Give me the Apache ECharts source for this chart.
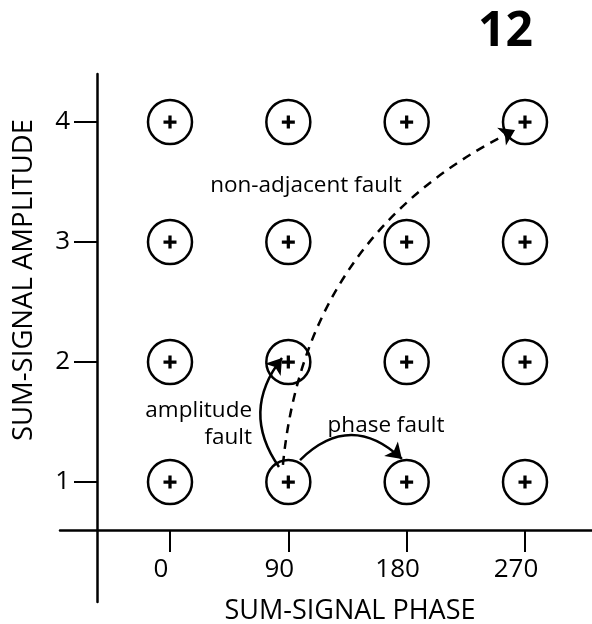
<!DOCTYPE html>
<html><head><meta charset="utf-8">
<script src="https://cdn.jsdelivr.net/npm/echarts@6/dist/echarts.min.js"></script>
<style>html,body{margin:0;padding:0;background:#fff}#c{width:592px;height:624px}</style>
</head><body><div id="c"></div>
<script>
// ---- data ----
const phaseTicks = [0, 90, 180, 270];
const amplitudeTicks = [1, 2, 3, 4];
const constellationPoints = [
  [0, 1], [90, 1], [180, 1], [270, 1],
  [0, 2], [90, 2], [180, 2], [270, 2],
  [0, 3], [90, 3], [180, 3], [270, 3],
  [0, 4], [90, 4], [180, 4], [270, 4]
];
const amplitudeFault = [[82.9, 1.125], [85.2, 2.033]];
const phaseFault = [[98.9, 1.183], [176.4, 1.192]];
const nonAdjacentFault = [[85.9, 1.142], [262.4, 3.933]];
const centeredNotes = [[103.4, 3.467, 'non-adjacent fault'], [164.3, 1.467, 'phase fault']];
const rightNotes = [[62.4, 1.483, 'amplitude\nfault']];
const chartNumber = '12';
const xName = 'SUM-SIGNAL PHASE';
const yName = 'SUM-SIGNAL AMPLITUDE';

// ---- chart ----
const FONT = 'Open Sans';
const chart = echarts.init(document.getElementById('c'));
const axisText = { fontFamily: FONT, fontSize: 26, color: '#000' };
const arrowLine = (data, curveness, type) => ({
  type: 'lines', coordinateSystem: 'cartesian2d', silent: true, z: 5,
  data: [{ coords: data }],
  symbol: ['none', 'arrow'], symbolSize: 15,
  lineStyle: { color: '#000', width: 2.5, opacity: 1, curveness: curveness, type: type }
});
chart.setOption({
  animation: false,
  title: { text: chartNumber, right: 59, top: 8, padding: 0,
    textStyle: { fontFamily: FONT, fontSize: 48, fontWeight: 'bold', color: '#000' } },
  grid: { left: 60, right: 0, top: 74, bottom: 22, containLabel: false, outerBoundsMode: 'none' },
  xAxis: {
    type: 'value', min: -83.66, max: 320.96, offset: -72,
    axisLine: { show: true, onZero: false, lineStyle: { color: '#000', width: 2.5 } },
    axisTick: { show: true, customValues: phaseTicks, length: 22, lineStyle: { color: '#000', width: 2 } },
    axisLabel: Object.assign({ customValues: phaseTicks, margin: 27, padding: [0, 18, 0, 0] }, axisText),
    splitLine: { show: false },
    name: xName, nameLocation: 'middle', nameGap: 68,
    nameTextStyle: Object.assign({}, axisText, { fontSize: 27, padding: [0, 0, 0, 48] })
  },
  yAxis: {
    type: 'value', min: 0, max: 4.4, offset: -37,
    axisLine: { show: true, onZero: false, lineStyle: { color: '#000', width: 2.5 } },
    axisTick: { show: true, customValues: amplitudeTicks, length: 23, lineStyle: { color: '#000', width: 2 } },
    axisLabel: Object.assign({ customValues: amplitudeTicks, margin: 27 }, axisText),
    splitLine: { show: false },
    name: yName, nameLocation: 'middle', nameRotate: 90, nameGap: 59,
    nameTextStyle: Object.assign({}, axisText, { fontSize: 27.5, padding: [0, 0, 0, 116] })
  },
  series: [
    { type: 'scatter', silent: true, data: constellationPoints, symbol: 'circle', symbolSize: 44,
      itemStyle: { color: 'rgba(255,255,255,0)', borderColor: '#000', borderWidth: 2.5, opacity: 1 }, z: 2 },
    { type: 'scatter', silent: true, data: constellationPoints,
      symbol: 'path://M3.75,0H6.25V3.75H10V6.25H6.25V10H3.75V6.25H0V3.75H3.75Z', symbolSize: 13,
      itemStyle: { color: '#000', opacity: 1 }, z: 3 },
    arrowLine(amplitudeFault, 0.37, 'solid'),
    arrowLine(phaseFault, 0.48, 'solid'),
    arrowLine(nonAdjacentFault, 0.28, [9, 7]),
    { type: 'scatter', silent: true, data: centeredNotes, symbolSize: 0, z: 6,
      itemStyle: { opacity: 1 },
      label: { show: true, position: 'inside', formatter: p => p.data[2],
        fontFamily: FONT, fontSize: 22.5, color: '#000' } },
    { type: 'scatter', silent: true, data: rightNotes, symbolSize: 0, z: 6,
      itemStyle: { opacity: 1 },
      label: { show: true, position: 'left', distance: 0, align: 'right', lineHeight: 27,
        formatter: p => p.data[2], fontFamily: FONT, fontSize: 22.5, color: '#000' } }
  ]
});
</script></body></html>
